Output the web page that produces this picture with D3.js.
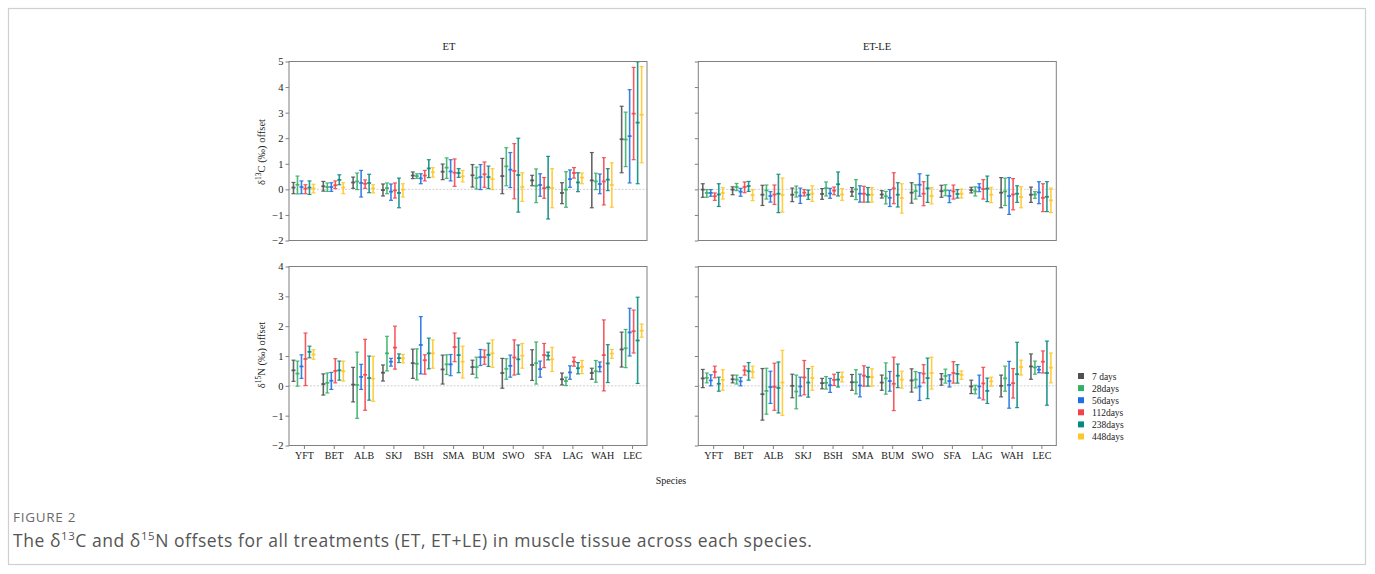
<!DOCTYPE html>
<html>
<head>
<meta charset="utf-8">
<script src="https://cdn.jsdelivr.net/npm/d3@7"></script>
<style>
  body { margin: 0; background: #fff; }
  svg text { font-family: "Liberation Serif", "Times New Roman", serif; fill: #222; }
  .caption text { font-family: "Open Sans", "Noto Sans", sans-serif; }
</style>
</head>
<body>
<div id="chart"></div>
<script>
// species on the x axis, treatments dodged within each species
const species = ['YFT', 'BET', 'ALB', 'SKJ', 'BSH', 'SMA', 'BUM', 'SWO', 'SFA', 'LAG', 'WAH', 'LEC'];
const treatments = ['7 days', '28days', '56days', '112days', '238days', '448days'];
const treatmentColors = ['#505050', '#34b066', '#1f6fe2', '#f2434a', '#06897f', '#ffc624'];

// each species row: six [lower, mean, upper] triples, one per treatment
const etCarbon = [
    [[-0.17, 0.07, 0.27], [-0.18, 0.18, 0.52], [-0.17, 0.09, 0.33], [-0.17, 0.03, 0.18], [-0.2, 0.07, 0.33], [-0.14, 0.03, 0.2]],
    [[-0.07, 0.12, 0.31], [-0.08, 0.09, 0.25], [-0.08, 0.09, 0.26], [0.03, 0.16, 0.33], [0.18, 0.37, 0.57], [-0.17, 0.07, 0.26]],
    [[0.04, 0.27, 0.48], [-0.01, 0.31, 0.64], [-0.3, 0.25, 0.74], [0.04, 0.22, 0.37], [-0.13, 0.25, 0.59], [-0.14, 0.04, 0.18]],
    [[-0.26, -0.03, 0.21], [-0.17, 0.05, 0.25], [-0.43, -0.09, 0.21], [-0.34, -0.04, 0.25], [-0.72, -0.14, 0.44], [-0.3, -0.01, 0.22]],
    [[0.42, 0.54, 0.68], [0.43, 0.52, 0.61], [0.22, 0.43, 0.61], [0.33, 0.54, 0.74], [0.46, 0.82, 1.16], [0.48, 0.67, 0.85]],
    [[0.38, 0.69, 0.99], [0.43, 0.85, 1.23], [0.33, 0.7, 1.16], [0.12, 0.65, 1.19], [0.47, 0.64, 0.81], [0.29, 0.51, 0.74]],
    [[0.09, 0.55, 0.97], [0.01, 0.44, 0.87], [-0.01, 0.48, 0.97], [0.08, 0.59, 1.07], [0.03, 0.48, 0.91], [-0.01, 0.4, 0.81]],
    [[-0.17, 0.52, 1.21], [0.14, 0.9, 1.63], [0.07, 0.77, 1.44], [-0.37, 0.72, 1.79], [-0.89, 0.56, 2.0], [-0.47, 0.09, 0.65]],
    [[0.14, 0.35, 0.55], [-0.52, 0.14, 0.8], [-0.27, 0.17, 0.61], [-0.35, 0.05, 0.46], [-1.16, 0.08, 1.29], [-0.72, 0.05, 0.81]],
    [[-0.56, -0.14, 0.26], [-0.7, -0.01, 0.69], [0.08, 0.4, 0.76], [0.44, 0.64, 0.85], [-0.09, 0.27, 0.65], [0.22, 0.46, 0.64]],
    [[-0.72, 0.35, 1.44], [-0.01, 0.31, 0.63], [-0.17, 0.21, 0.6], [-0.61, 0.31, 1.24], [-0.05, 0.38, 0.81], [-0.7, 0.17, 1.04]],
    [[0.65, 1.96, 3.25], [0.89, 1.95, 3.02], [0.25, 2.08, 3.9], [1.16, 2.96, 4.77], [0.22, 2.61, 4.99], [1.04, 2.92, 4.8]]
];

const etleCarbon = [
    [[-0.31, -0.01, 0.22], [-0.31, -0.14, -0.01], [-0.27, -0.14, -0.01], [-0.43, -0.27, -0.14], [-0.67, -0.2, 0.22], [-0.38, -0.14, 0.07]],
    [[-0.21, -0.01, 0.1], [-0.05, 0.09, 0.23], [-0.27, -0.09, 0.04], [-0.13, 0.09, 0.29], [-0.08, 0.13, 0.31], [-0.44, -0.22, -0.01]],
    [[-0.63, -0.21, 0.16], [-0.38, -0.04, 0.17], [-0.5, -0.26, -0.09], [-0.59, -0.2, 0.17], [-0.91, -0.17, 0.59], [-0.89, -0.22, 0.44]],
    [[-0.48, -0.21, 0.05], [-0.3, -0.12, 0.13], [-0.55, -0.25, 0.05], [-0.26, -0.13, -0.01], [-0.39, -0.21, -0.03], [-0.47, -0.17, 0.14]],
    [[-0.39, -0.18, 0.03], [-0.26, 0.05, 0.29], [-0.35, -0.16, 0.04], [-0.21, -0.05, 0.09], [-0.26, 0.2, 0.68], [-0.43, -0.2, 0.03]],
    [[-0.27, -0.09, 0.07], [-0.4, 0.0, 0.38], [-0.5, -0.17, 0.14], [-0.5, -0.17, 0.12], [-0.5, -0.21, 0.07], [-0.5, -0.21, 0.07]],
    [[-0.34, -0.2, -0.05], [-0.57, -0.27, -0.08], [-0.67, -0.33, -0.01], [-0.56, 0.04, 0.65], [-0.69, -0.21, 0.26], [-0.93, -0.34, 0.22]],
    [[-0.54, -0.13, 0.26], [-0.38, -0.07, 0.18], [-0.27, 0.18, 0.61], [-0.64, -0.17, 0.3], [-0.51, 0.04, 0.55], [-0.57, -0.26, 0.07]],
    [[-0.31, -0.07, 0.16], [-0.25, -0.04, 0.18], [-0.52, -0.26, -0.04], [-0.38, -0.08, 0.17], [-0.34, -0.18, -0.01], [-0.34, -0.17, 0.01]],
    [[-0.14, -0.03, 0.08], [-0.26, -0.08, 0.1], [-0.09, 0.07, 0.22], [-0.38, 0.01, 0.38], [-0.48, 0.03, 0.52], [-0.52, -0.21, 0.08]],
    [[-0.72, -0.13, 0.46], [-0.63, -0.08, 0.44], [-0.98, -0.26, 0.46], [-0.8, -0.2, 0.42], [-0.51, -0.17, 0.14], [-0.72, -0.3, 0.1]],
    [[-0.51, -0.21, 0.09], [-0.35, -0.2, -0.09], [-0.56, -0.12, 0.3], [-0.87, -0.33, 0.22], [-0.87, -0.29, 0.3], [-0.91, -0.43, 0.05]]
];

const etNitrogen = [
    [[0.15, 0.52, 0.86], [-0.01, 0.41, 0.83], [0.25, 0.65, 1.04], [0.01, 0.9, 1.77], [0.94, 1.14, 1.33], [0.89, 1.05, 1.21]],
    [[-0.31, 0.06, 0.4], [-0.24, 0.1, 0.43], [-0.12, 0.17, 0.45], [0.1, 0.5, 0.91], [0.19, 0.52, 0.83], [0.16, 0.49, 0.83]],
    [[-0.54, 0.04, 0.62], [-1.09, 0.03, 1.13], [-0.12, 0.3, 0.72], [-0.82, 0.37, 1.56], [-0.48, 0.26, 1.0], [-0.52, 0.24, 0.99]],
    [[0.16, 0.44, 0.7], [0.5, 1.09, 1.66], [0.66, 0.81, 0.92], [0.56, 1.28, 2.0], [0.78, 0.93, 1.07], [0.77, 0.92, 1.05]],
    [[0.25, 0.76, 1.23], [0.2, 0.74, 1.24], [0.4, 1.37, 2.32], [0.39, 0.86, 1.04], [0.57, 1.09, 1.6], [0.59, 1.09, 1.54]],
    [[0.06, 0.55, 1.03], [0.38, 0.72, 1.04], [0.34, 0.72, 1.05], [0.81, 1.3, 1.77], [0.44, 1.03, 1.6], [0.26, 0.81, 1.33]],
    [[0.39, 0.63, 0.86], [0.27, 0.63, 0.96], [0.68, 0.96, 1.22], [0.72, 0.96, 1.2], [0.65, 1.04, 1.43], [0.62, 1.09, 1.54]],
    [[-0.08, 0.43, 0.92], [0.22, 0.57, 0.91], [0.29, 0.67, 1.03], [0.36, 0.95, 1.54], [0.39, 0.89, 1.37], [0.59, 1.01, 1.42]],
    [[0.18, 0.7, 1.21], [0.06, 0.76, 1.47], [0.29, 0.56, 0.83], [0.61, 1.03, 1.42], [0.87, 1.01, 1.13], [0.48, 0.89, 1.29]],
    [[0.03, 0.22, 0.43], [0.01, 0.16, 0.29], [0.22, 0.45, 0.67], [0.66, 0.81, 0.96], [0.4, 0.59, 0.78], [0.41, 0.64, 0.85]],
    [[0.22, 0.43, 0.59], [0.12, 0.49, 0.85], [0.47, 0.64, 0.8], [-0.17, 1.03, 2.21], [0.11, 0.75, 1.38], [0.92, 1.08, 1.22]],
    [[0.63, 1.22, 1.8], [0.61, 1.26, 1.89], [1.0, 1.79, 2.6], [1.1, 1.83, 2.54], [0.08, 1.52, 2.97], [1.63, 1.85, 2.07]]
];

const etleNitrogen = [
    [[-0.06, 0.25, 0.55], [0.1, 0.27, 0.43], [0.0, 0.18, 0.37], [0.27, 0.47, 0.66], [-0.18, 0.07, 0.29], [-0.15, 0.2, 0.54]],
    [[0.1, 0.22, 0.36], [0.06, 0.21, 0.36], [0.0, 0.15, 0.28], [0.36, 0.52, 0.66], [0.19, 0.49, 0.78], [0.27, 0.47, 0.66]],
    [[-1.15, -0.28, 0.58], [-0.95, -0.17, 0.59], [-0.59, -0.04, 0.49], [-0.82, -0.03, 0.76], [-0.91, -0.07, 0.8], [-0.99, 0.11, 1.19]],
    [[-0.4, 0.0, 0.39], [-0.77, -0.19, 0.36], [-0.34, -0.02, 0.29], [-0.3, 0.28, 0.85], [-0.38, 0.11, 0.58], [-0.15, 0.26, 0.65]],
    [[-0.1, 0.09, 0.25], [-0.11, 0.1, 0.31], [-0.22, 0.02, 0.25], [0.01, 0.2, 0.39], [-0.04, 0.21, 0.45], [0.13, 0.29, 0.46]],
    [[-0.15, 0.12, 0.38], [-0.27, 0.12, 0.54], [-0.37, 0.01, 0.39], [-0.01, 0.34, 0.67], [-0.01, 0.3, 0.62], [-0.01, 0.29, 0.57]],
    [[-0.15, 0.11, 0.36], [-0.28, 0.25, 0.77], [-0.18, 0.16, 0.48], [-0.83, 0.07, 0.96], [-0.06, 0.34, 0.73], [-0.08, 0.21, 0.49]],
    [[-0.21, 0.18, 0.57], [-0.07, 0.21, 0.48], [-0.49, -0.02, 0.44], [0.1, 0.41, 0.71], [-0.43, 0.26, 0.93], [-0.11, 0.43, 0.96]],
    [[0.02, 0.22, 0.41], [0.09, 0.33, 0.56], [-0.04, 0.16, 0.37], [0.09, 0.43, 0.81], [0.09, 0.4, 0.71], [0.22, 0.37, 0.5]],
    [[-0.26, -0.02, 0.19], [-0.27, -0.12, 0.02], [-0.41, -0.02, 0.36], [-0.47, 0.08, 0.62], [-0.59, -0.17, 0.26], [-0.01, 0.15, 0.29]],
    [[-0.37, 0.0, 0.36], [-0.18, 0.25, 0.66], [-0.75, 0.03, 0.82], [-0.41, 0.09, 0.58], [-0.73, 0.39, 1.46], [0.36, 0.63, 0.86]],
    [[0.22, 0.65, 1.07], [0.39, 0.62, 0.83], [0.44, 0.54, 0.65], [0.43, 0.81, 1.17], [-0.65, 0.43, 1.5], [0.1, 0.61, 1.1]]
];

const carbonTicks = [-2, -1, 0, 1, 2, 3, 4, 5];
const nitrogenTicks = [-2, -1, 0, 1, 2, 3, 4];

class ErrorBarPanel {
    constructor(_config, data) {
        this.config = {
            parent: _config.parent,
            left: _config.left,
            top: _config.top,
            width: _config.width || 358,
            height: _config.height || 179,
            yTicks: _config.yTicks,
            showYLabels: _config.showYLabels,
            showXLabels: _config.showXLabels
        };
        this.data = data;
        this.initVis();
    }

    initVis() {
        let vis = this;
        const c = vis.config;

        vis.g = c.parent.append('g')
            .attr('transform', `translate(${c.left},${c.top})`);

        // species positions run 0..11 with half a slot of padding each side
        vis.xScale = d3.scaleLinear()
            .domain([-0.5, species.length - 0.5])
            .range([0, c.width]);

        vis.dodge = d3.scalePoint()
            .domain(treatments)
            .range([-0.35, 0.32]);

        vis.yScale = d3.scaleLinear()
            .domain(d3.extent(c.yTicks))
            .range([c.height, 0]);

        vis.yAxis = d3.axisLeft(vis.yScale)
            .tickValues(c.yTicks)
            .tickSize(3.5)
            .tickPadding(2)
            .tickFormat(c.showYLabels ? d3.format('d') : '');

        vis.xAxis = d3.axisBottom(vis.xScale)
            .tickValues(d3.range(species.length))
            .tickSize(3.5)
            .tickPadding(3)
            .tickFormat(i => species[i]);

        // zero reference line
        vis.g.append('line')
            .attr('x1', 0).attr('x2', c.width)
            .attr('y1', vis.yScale(0)).attr('y2', vis.yScale(0))
            .attr('stroke', '#c4c4c4')
            .attr('stroke-width', 0.8)
            .attr('stroke-dasharray', '2,1.5');
    }

    renderVis() {
        let vis = this;
        const c = vis.config;

        const bars = [];
        vis.data.forEach((row, i) => {
            row.forEach((v, k) => {
                bars.push({ sp: i, tr: treatments[k], color: treatmentColors[k], lo: v[0], mean: v[1], hi: v[2] });
            });
        });

        const barG = vis.g.selectAll('.bar')
            .data(bars)
            .join('g')
            .attr('class', 'bar')
            .attr('stroke', d => d.color)
            .attr('stroke-opacity', 0.88)
            .attr('stroke-width', 1.6);

        const bx = d => vis.xScale(d.sp + vis.dodge(d.tr));

        barG.append('line')
            .attr('x1', bx).attr('x2', bx)
            .attr('y1', d => vis.yScale(d.hi))
            .attr('y2', d => vis.yScale(d.lo));

        // caps and mean tick
        ['hi', 'lo', 'mean'].forEach(key => {
            barG.append('line')
                .attr('x1', d => bx(d) - 2)
                .attr('x2', d => bx(d) + 2)
                .attr('y1', d => vis.yScale(d[key]))
                .attr('y2', d => vis.yScale(d[key]))
                .attr('stroke-width', key === 'mean' ? 1.8 : 1.2);
        });

        // frame
        vis.g.append('rect')
            .attr('width', c.width)
            .attr('height', c.height)
            .attr('fill', 'none')
            .attr('stroke', '#808080')
            .attr('stroke-width', 1);

        const yAxisG = vis.g.append('g')
            .attr('class', 'axis y-axis')
            .call(vis.yAxis);
        yAxisG.select('.domain').remove();
        yAxisG.selectAll('line').attr('stroke', '#808080');
        yAxisG.selectAll('text')
            .attr('font-size', 10.5)
            .attr('font-family', '"Liberation Serif", serif')
            .attr('fill', '#222');

        if (c.showXLabels) {
            const xAxisG = vis.g.append('g')
                .attr('class', 'axis x-axis')
                .attr('transform', `translate(0,${c.height})`)
                .call(vis.xAxis);
            xAxisG.select('.domain').remove();
            xAxisG.selectAll('line').attr('stroke', '#808080');
            xAxisG.selectAll('text')
                .attr('font-size', 10)
                .attr('font-family', '"Liberation Serif", serif')
                .attr('fill', '#222');
        }
    }
}

const svg = d3.select('#chart').append('svg')
    .attr('width', 1375)
    .attr('height', 574);

// outer figure box
svg.append('rect')
    .attr('x', 8.5).attr('y', 8.5)
    .attr('width', 1357).attr('height', 556)
    .attr('fill', 'none')
    .attr('stroke', '#cfcfcf')
    .attr('stroke-width', 1.2);

const panels = [
    { data: etCarbon, left: 289, top: 61.5, yTicks: carbonTicks, showYLabels: true, showXLabels: false },
    { data: etleCarbon, left: 698.3, top: 61.5, yTicks: carbonTicks, showYLabels: false, showXLabels: false },
    { data: etNitrogen, left: 289, top: 266.5, yTicks: nitrogenTicks, showYLabels: true, showXLabels: true },
    { data: etleNitrogen, left: 698.3, top: 266.5, yTicks: nitrogenTicks, showYLabels: false, showXLabels: true }
];

panels.forEach(p => {
    const panel = new ErrorBarPanel({
        parent: svg,
        left: p.left,
        top: p.top,
        width: 358,
        height: 179,
        yTicks: p.yTicks,
        showYLabels: p.showYLabels,
        showXLabels: p.showXLabels
    }, p.data);
    panel.renderVis();
});

// titles
svg.append('text').attr('x', 449).attr('y', 50)
    .attr('text-anchor', 'middle').attr('font-size', 10.5).text('ET');
svg.append('text').attr('x', 877).attr('y', 50)
    .attr('text-anchor', 'middle').attr('font-size', 10.5).text('ET-LE');

// y axis labels with superscripts
function yLabel(cx, cy, iso, elem) {
    const t = svg.append('text')
        .attr('transform', `translate(${cx},${cy}) rotate(-90)`)
        .attr('text-anchor', 'middle')
        .attr('font-size', 10.5);
    t.append('tspan').text('δ');
    t.append('tspan').attr('baseline-shift', 'super').attr('font-size', 7.5).text(iso);
    t.append('tspan').text(`${elem} (‰) offset`);
}
yLabel(265, 152, '13', 'C');
yLabel(265, 355, '15', 'N');

svg.append('text').attr('x', 671).attr('y', 484)
    .attr('text-anchor', 'middle').attr('font-size', 10).text('Species');

// legend
const legend = svg.append('g').attr('transform', 'translate(1078,376)');
const legendRows = legend.selectAll('g')
    .data(treatments)
    .join('g')
    .attr('transform', (d, i) => `translate(0,${i * 12.1})`);
legendRows.append('rect')
    .attr('x', 0).attr('y', -3)
    .attr('width', 6).attr('height', 6)
    .attr('fill', (d, i) => treatmentColors[i]);
legendRows.append('text')
    .attr('x', 14).attr('y', 3.5)
    .attr('font-size', 9.5)
    .text(d => d);

// caption
const caption = svg.append('g').attr('class', 'caption');
caption.append('text')
    .attr('x', 13).attr('y', 522)
    .attr('font-size', 13.5)
    .attr('letter-spacing', 0.7)
    .style('fill', '#6a6a6a')
    .text('FIGURE 2');
const capLine = caption.append('text')
    .attr('x', 13).attr('y', 547)
    .attr('font-size', 17.5)
    .attr('letter-spacing', 0.55)
    .style('fill', '#555');
capLine.append('tspan').text('The δ');
capLine.append('tspan').attr('baseline-shift', 'super').attr('font-size', 11.5).text('13');
capLine.append('tspan').text('C and δ');
capLine.append('tspan').attr('baseline-shift', 'super').attr('font-size', 11.5).text('15');
capLine.append('tspan').text('N offsets for all treatments (ET, ET+LE) in muscle tissue across each species.');
</script>
</body>
</html>
